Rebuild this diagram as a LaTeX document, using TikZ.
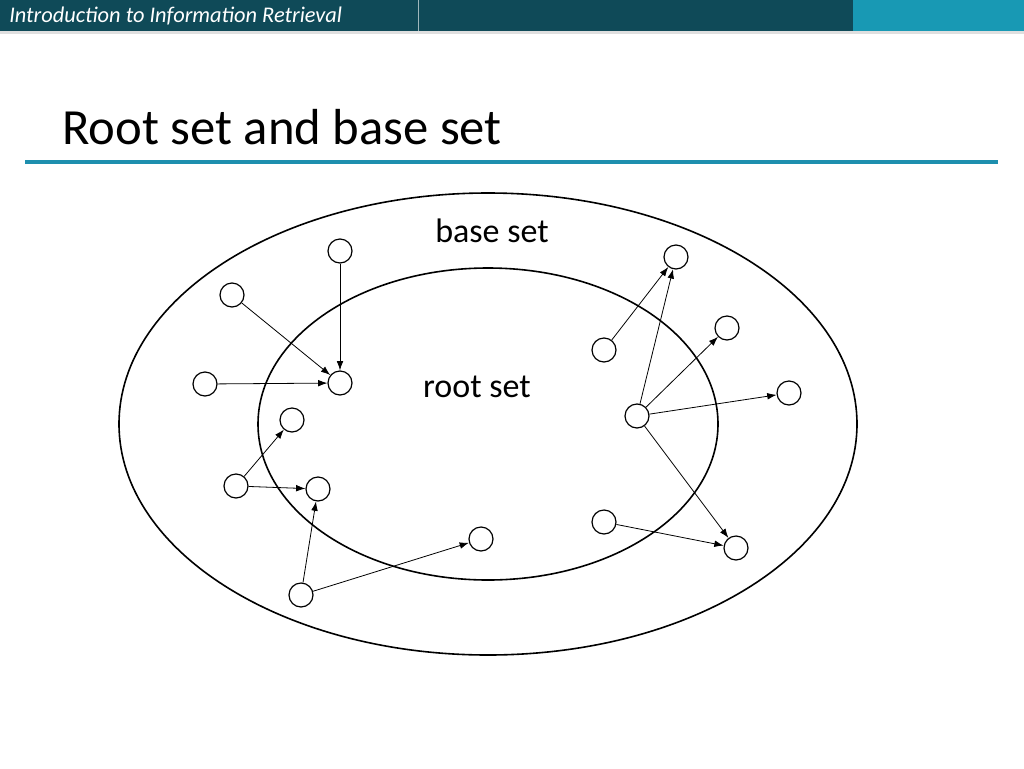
\documentclass[tikz,border=0pt]{standalone}
\usepackage{fontspec}
\setmainfont{Carlito}
\usetikzlibrary{arrows.meta}
\definecolor{hdr}{HTML}{0F4A58}
\definecolor{hdrl}{HTML}{1899B4}
\definecolor{rule}{HTML}{1E8FAE}
\begin{document}
\begin{tikzpicture}[x=0.75pt,y=-0.75pt,
  pg/.style={circle,draw,line width=0.9pt,minimum size=18pt,inner sep=0pt,fill=white},
  ln/.style={-{Latex[length=7pt,width=5pt]},line width=0.6pt}]
\useasboundingbox (0,0) rectangle (1024,768);
\fill[white] (0,0) rectangle (1024,768);
\fill[hdr] (0,0) rectangle (853,31);
\fill[hdrl] (853,0) rectangle (1024,31);
\draw[white!60!hdr,line width=0.5pt] (418,0) -- (418,31);
\fill[gray!25] (0,31) rectangle (1024,34);
\node[anchor=west,text=white,font=\itshape\fontsize{16.8}{19}\selectfont,inner sep=0pt] (hd) at (9,16) {Introduction to Information Retrieval};
\node[anchor=west,font=\fontsize{38}{44}\selectfont,inner sep=0pt] (tt) at (62,127) {Root set and base set};
\draw[rule,line width=3pt] (25,162) -- (998,162);
\draw[line width=1.2pt] (488,424) ellipse [x radius=369, y radius=231];
\draw[line width=1.2pt] (488,424) ellipse [x radius=230, y radius=156];
\node[font=\fontsize{25.5}{29}\selectfont] (bs) at (492,231) {base set};
\node[font=\fontsize{25.5}{29}\selectfont] (rs) at (477,387) {root set};
\node[pg] (A) at (340,251) {};
\node[pg] (B) at (232,295) {};
\node[pg] (C) at (205,384) {};
\node[pg] (D) at (340,383) {};
\node[pg] (E) at (292,420) {};
\node[pg] (F) at (236,486) {};
\node[pg] (G) at (318,489) {};
\node[pg] (H) at (301,595) {};
\node[pg] (I) at (481,539) {};
\node[pg] (J) at (676,257) {};
\node[pg] (K) at (604,350) {};
\node[pg] (L) at (727,328) {};
\node[pg] (M) at (789,393) {};
\node[pg] (N) at (637,416) {};
\node[pg] (O) at (604,522) {};
\node[pg] (P) at (736,548) {};
\foreach \a/\b in {B/D,A/D,C/D,F/E,F/G,H/G,H/I,K/J,N/J,N/L,N/M,N/P,O/P}
  \draw[ln] (\a) -- (\b);
\end{tikzpicture}
\end{document}
